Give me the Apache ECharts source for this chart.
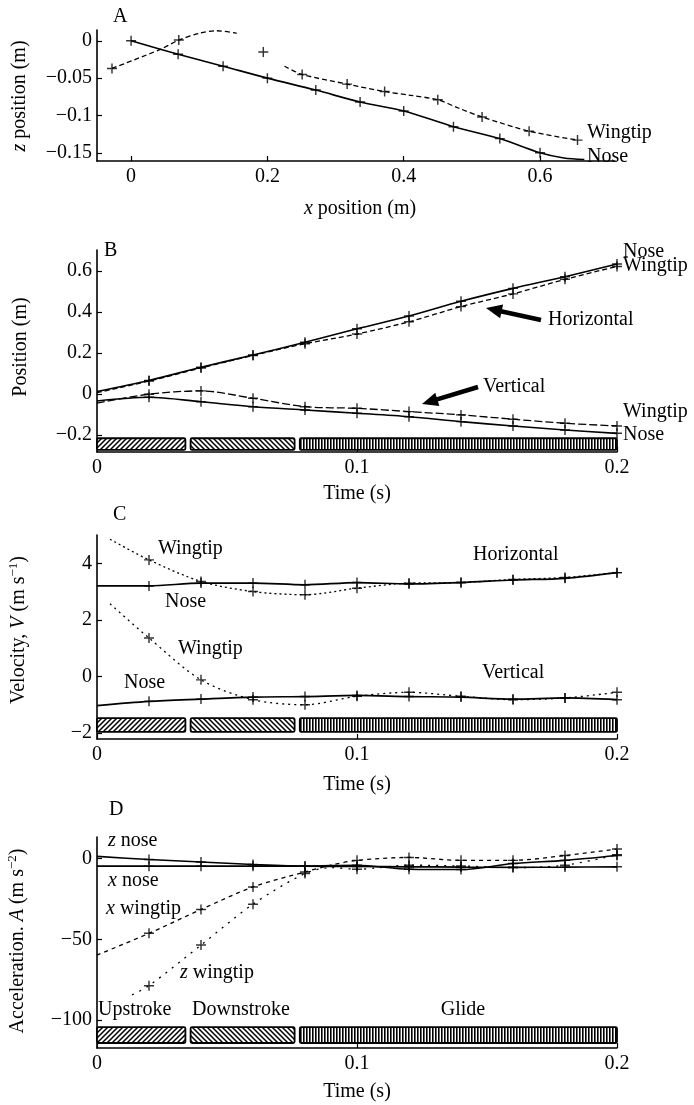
<!DOCTYPE html>
<html><head><meta charset="utf-8">
<script src="https://cdn.jsdelivr.net/npm/echarts@6/dist/echarts.min.js"></script>
<style>html,body{margin:0;padding:0;background:#fff}#c{width:694px;height:1105px}</style>
</head><body><div id="c"></div>
<script>
// ---------- Panel A: z position vs x position (m)
const aXTicks = [0, 0.2, 0.4, 0.6];
const aYTicks = [0, -0.05, -0.1, -0.15];
const aNose = [[0,0],[0.069,-0.018],[0.135,-0.034],[0.2,-0.050],[0.271,-0.066],[0.336,-0.082],[0.4,-0.094],[0.473,-0.115],[0.541,-0.131],[0.6,-0.150],[0.635,-0.157],[0.665,-0.159]];
const aNoseMarks = [[0,0],[0.069,-0.018],[0.135,-0.034],[0.2,-0.050],[0.271,-0.066],[0.336,-0.082],[0.4,-0.094],[0.473,-0.115],[0.541,-0.131],[0.6,-0.150]];
const aWingSeg1 = [[-0.028,-0.037],[0.044,-0.011],[0.07,0.001],[0.1,0.010],[0.126,0.0135],[0.155,0.010]];
const aWingSeg2 = [[0.225,-0.034],[0.251,-0.045],[0.317,-0.058],[0.372,-0.068],[0.41,-0.073],[0.45,-0.079],[0.48,-0.090],[0.515,-0.102],[0.584,-0.121],[0.655,-0.133]];
const aWingMarks = [[-0.028,-0.037],[0.07,0.001],[0.194,-0.015],[0.251,-0.045],[0.317,-0.058],[0.372,-0.068],[0.45,-0.079],[0.515,-0.102],[0.584,-0.121],[0.655,-0.133]];

// ---------- Time samples (s)
const tStd = [0,0.02,0.04,0.06,0.08,0.1,0.12,0.14,0.16,0.18,0.2];
const timeTicks = [0, 0.1, 0.2];

// ---------- Panel B: position (m)
const bYTicks = [-0.2, 0, 0.2, 0.4, 0.6];
const bHorizNose = [0.012,0.066,0.13,0.19,0.252,0.318,0.38,0.452,0.515,0.572,0.634];
const bHorizWing = [0.006,0.063,0.127,0.188,0.245,0.292,0.352,0.426,0.488,0.559,0.622];
const bVertNose  = [-0.034,-0.016,-0.038,-0.062,-0.078,-0.094,-0.111,-0.135,-0.156,-0.176,-0.192];
const bVertWing  = [-0.045,-0.001,0.015,-0.021,-0.062,-0.07,-0.086,-0.102,-0.123,-0.143,-0.156];

// ---------- Panel C: velocity (m/s)
const cYTicks = [-2, 0, 2, 4];
const tCWing = [0.005,0.02,0.04,0.06,0.08,0.1,0.12,0.14,0.16,0.18,0.2];
const cHorizNose = [3.2,3.2,3.3,3.3,3.24,3.32,3.27,3.32,3.41,3.47,3.67];
const cHorizWing = [4.85,4.12,3.36,3.0,2.89,3.12,3.3,3.32,3.43,3.5,3.67];
const cVertNose  = [-1.03,-0.88,-0.8,-0.73,-0.71,-0.67,-0.71,-0.73,-0.8,-0.76,-0.82];
const cVertWing  = [2.57,1.36,-0.12,-0.82,-1.0,-0.7,-0.56,-0.7,-0.82,-0.76,-0.56];

// ---------- Panel D: acceleration (m/s^2)
const dYTicks = [-100, -50, 0];
const dXNose = [-4.6,-4.6,-4.6,-4.6,-4.6,-4.8,-5,-5.2,-5.3,-5.2,-5];
const dZNose = [1.5,-0.5,-2,-3.6,-4.6,-4,-6.5,-6.7,-3,-1,2];
const tDXWing = [0,0.02,0.04,0.06,0.08,0.09,0.1,0.12,0.14,0.16,0.18,0.2];
const dXWing = [-59.8,-46.3,-31.5,-17.5,-8.2,-4,-1,0.8,-1,-1,2,6];
const tDZWing = [0.0135,0.02,0.04,0.06,0.08,0.09,0.1,0.12,0.14,0.16,0.18,0.2];
const dZWing = [-84.5,-78.8,-53.6,-28.2,-9.2,-5.5,-6.5,-4,-4.5,-5.5,-4,2.5];

// ---------- Stroke phases (s)
const phases = [[0,0.034,0],[0.036,0.076,1],[0.078,0.2,2]];
const phaseNames = ['Upstroke','Downstroke','Glide'];

const FONT = 'Liberation Serif';
const FS = 20;
const BLACK = '#000';

function makePattern(kind){
  const c = document.createElement('canvas');
  const s = kind === 2 ? 3 : 5;
  c.width = s; c.height = s;
  const g = c.getContext('2d');
  g.fillStyle = '#fff'; g.fillRect(0,0,s,s);
  g.strokeStyle = '#000'; g.fillStyle = '#000'; g.lineWidth = 1.5;
  if (kind === 2) { g.fillRect(0,0,1.6,s); }
  else {
    g.beginPath();
    const segs = kind === 0
      ? [[0,s,s,0],[-s,s,s,-s],[0,2*s,2*s,0]]
      : [[0,0,s,s],[-s,0,s,2*s],[0,-s,2*s,s]];
    segs.forEach(q=>{g.moveTo(q[0],q[1]); g.lineTo(q[2],q[3]);});
    g.stroke();
  }
  return {image:c, repeat:'repeat'};
}
const pats = [makePattern(0), makePattern(1), makePattern(2)];

const minus = v => v < 0 ? '\u2212' + String(+(-v).toFixed(4)) : String(+v.toFixed(4));

const grids = [
  {left:97, top:30, width:518, height:131},
  {left:97, top:250, width:520, height:202},
  {left:97, top:535, width:520, height:204},
  {left:97, top:837, width:520, height:211}
];
const axisLineStyle = {color:BLACK, width:1.6};
const labelStyle = {color:BLACK, fontFamily:FONT, fontSize:FS};

function xAxisCfg(gi, min, max, ticks){
  return {type:'value', gridIndex:gi, min, max,
    axisLine:{show:true, onZero:false, lineStyle:axisLineStyle},
    axisTick:{show:true, inside:true, length:5, customValues:ticks, lineStyle:{color:BLACK, width:1.2}},
    axisLabel:Object.assign({margin:6, customValues:ticks, formatter:minus}, labelStyle),
    splitLine:{show:false}};
}
function yAxisCfg(gi, min, max, ticks){
  return {type:'value', gridIndex:gi, min, max,
    axisLine:{show:true, onZero:false, lineStyle:axisLineStyle},
    axisTick:{show:true, inside:true, length:5, customValues:ticks, lineStyle:{color:BLACK, width:1.2}},
    axisLabel:Object.assign({margin:5, customValues:ticks, formatter:minus}, labelStyle),
    splitLine:{show:false}};
}

const xAxes = [
  xAxisCfg(0, -0.05, 0.71, aXTicks),
  xAxisCfg(1, 0, 0.2, timeTicks),
  xAxisCfg(2, 0, 0.2, timeTicks),
  xAxisCfg(3, 0, 0.2, timeTicks)
];
const yAxes = [
  yAxisCfg(0, -0.161, 0.0145, aYTicks),
  yAxisCfg(1, -0.283, 0.702, bYTicks),
  yAxisCfg(2, -2.21, 5.0, cYTicks),
  yAxisCfg(3, -117.5, 13.5, dYTicks)
];

const pairs = (ts, vs) => ts.map((t,i)=>[t, vs[i]]);
const isMark = t => t > 0.001 && Math.abs(t/0.02 - Math.round(t/0.02)) < 1e-6;
const CROSS = 'path://M-1.3,-9H1.3V-1.3H9V1.3H1.3V9H-1.3V1.3H-9V-1.3H-1.3Z';

function line(gi, pts, dash, width){
  return {type:'line', xAxisIndex:gi, yAxisIndex:gi, data:pts, smooth:0.3,
    showSymbol:false, symbol:'none', silent:true, animation:false,
    lineStyle:{color:BLACK, width:width||1.5, type:dash||'solid'}};
}
function marks(gi, pts){
  return {type:'scatter', xAxisIndex:gi, yAxisIndex:gi, data:pts, symbol:CROSS, symbolSize:10,
    itemStyle:{color:BLACK}, silent:true, animation:false, z:3};
}
function curveWithMarks(gi, ts, vs, dash, width){
  const pts = pairs(ts, vs);
  return [line(gi, pts, dash, width), marks(gi, pts.filter(p=>isMark(p[0])))];
}
function bands(gi, top, bot){
  return {type:'custom', xAxisIndex:gi, yAxisIndex:gi, silent:true, animation:false,
    data: phases.map(p=>[p[0], p[1], top, bot, p[2]]),
    encode:{x:[0,1], y:[2,3]},
    renderItem:(params, api)=>{
      const p1 = api.coord([api.value(0), api.value(2)]);
      const p2 = api.coord([api.value(1), api.value(3)]);
      return {type:'rect', shape:{x:p1[0], y:p1[1], width:p2[0]-p1[0], height:p2[1]-p1[1], r:1.5},
        style:{fill:pats[api.value(4)], stroke:BLACK, lineWidth:1.8}};
    }};
}

const series = [
  line(0, aNose, 'solid', 1.6), marks(0, aNoseMarks),
  line(0, aWingSeg1, [5,3], 1.3), line(0, aWingSeg2, [5,3], 1.3), marks(0, aWingMarks),

  ...curveWithMarks(1, tStd, bHorizNose, 'solid', 1.6),
  ...curveWithMarks(1, tStd, bHorizWing, [5,3], 1.3),
  ...curveWithMarks(1, tStd, bVertNose, 'solid', 1.6),
  ...curveWithMarks(1, tStd, bVertWing, [8,3], 1.3),
  bands(1, -0.216, -0.273),

  ...curveWithMarks(2, tStd, cHorizNose, 'solid', 1.7),
  ...curveWithMarks(2, tCWing, cHorizWing, [2,3], 1.3),
  ...curveWithMarks(2, tStd, cVertNose, 'solid', 1.7),
  ...curveWithMarks(2, tCWing, cVertWing, [2,4], 1.3),
  bands(2, -1.47, -1.96),

  ...curveWithMarks(3, tStd, dXNose, 'solid', 1.7),
  ...curveWithMarks(3, tStd, dZNose, 'solid', 1.6),
  ...curveWithMarks(3, tDXWing, dXWing, [4,4], 1.3),
  ...curveWithMarks(3, tDZWing, dZWing, [2,6], 1.3),
  bands(3, -104.5, -114.4)
];

function txt(x, y, text, extra){
  return {type:'text', x, y, silent:true, z:100,
    style:Object.assign({text, fill:BLACK, fontFamily:FONT, fontSize:FS, align:'left', verticalAlign:'middle',
      rich:{i:{fontStyle:'italic', fontFamily:FONT, fontSize:FS},
            n:{fontFamily:FONT, fontSize:FS},
            sup:{fontFamily:FONT, fontSize:13, verticalAlign:'top', padding:[0,0,10,0]}}}, extra||{})};
}
function vtxt(x, y, text){
  const t = txt(0, 0, text, {align:'center'});
  t.x = x; t.y = y; t.rotation = Math.PI/2;
  return t;
}
function arrow(tail, head){
  const dx = head[0]-tail[0], dy = head[1]-tail[1];
  const L = Math.hypot(dx, dy), ux = dx/L, uy = dy/L;
  const hl = 16, hw = 7;
  const bx = head[0]-ux*hl, by = head[1]-uy*hl;
  const px = -uy, py = ux;
  return [
    {type:'line', silent:true, shape:{x1:tail[0], y1:tail[1], x2:bx+ux*2, y2:by+uy*2}, style:{stroke:BLACK, lineWidth:4.5}},
    {type:'polygon', silent:true, shape:{points:[[head[0],head[1]],[bx+px*hw,by+py*hw],[bx-px*hw,by-py*hw]]}, style:{fill:BLACK}}
  ];
}

const graphic = [
  // Panel A
  txt(113, 17, 'A'),
  vtxt(20, 96, '{i|z}{n| position (m)}'),
  txt(360, 209, '{i|x}{n| position (m)}', {align:'center'}),
  txt(587, 133, 'Wingtip'),
  txt(587, 157, 'Nose'),
  // Panel B
  txt(104, 251, 'B'),
  vtxt(21, 347, 'Position (m)'),
  txt(357, 494, 'Time (s)', {align:'center'}),
  txt(623, 252, 'Nose'),
  txt(623, 266, 'Wingtip'),
  txt(623, 412, 'Wingtip'),
  txt(623, 435, 'Nose'),
  txt(548, 320, 'Horizontal'),
  txt(483, 387, 'Vertical'),
  ...arrow([541,320],[486,308]),
  ...arrow([478,387],[422,404]),
  // Panel C
  txt(113, 515, 'C'),
  vtxt(19, 630, '{n|Velocity, }{i|V}{n| (m s}{sup|\u22121}{n|)}'),
  txt(357, 785, 'Time (s)', {align:'center'}),
  txt(158, 549, 'Wingtip'),
  txt(473, 555, 'Horizontal'),
  txt(165, 602, 'Nose'),
  txt(178, 649, 'Wingtip'),
  txt(482, 673, 'Vertical'),
  txt(124, 683, 'Nose'),
  // Panel D
  txt(109, 810, 'D'),
  vtxt(18, 941, '{n|Acceleration. }{i|A}{n| (m s}{sup|\u22122}{n|)}'),
  txt(357, 1092, 'Time (s)', {align:'center'}),
  txt(108, 841, '{i|z}{n| nose}'),
  txt(108, 881, '{i|x}{n| nose}'),
  txt(106, 909, '{i|x}{n| wingtip}'),
  txt(180, 973, '{i|z}{n| wingtip}'),
  txt(98, 1010, phaseNames[0]),
  txt(192, 1010, phaseNames[1]),
  txt(463, 1010, phaseNames[2], {align:'center'})
];

const chart = echarts.init(document.getElementById('c'), null, {renderer:'canvas'});
chart.setOption({
  animation:false,
  backgroundColor:'#fff',
  grid:grids,
  xAxis:xAxes,
  yAxis:yAxes,
  series,
  graphic
});
</script></body></html>
